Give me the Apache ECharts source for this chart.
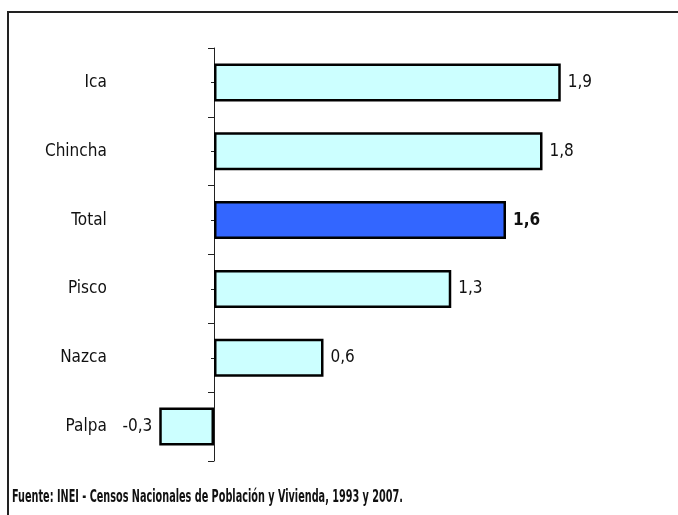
<!DOCTYPE html>
<html>
<head>
<meta charset="utf-8">
<script src="https://cdn.jsdelivr.net/npm/echarts@6/dist/echarts.min.js"></script>
<style>
  html, body { margin: 0; padding: 0; background: #fff; }
  .main { width: 678px; height: 515px; }
</style>
</head>
<body>
<div class="main"></div>
<script>
let chartDom = document.querySelector('.main');
let myChart = echarts.init(chartDom);

let provincias = ['Ica', 'Chincha', 'Total', 'Pisco', 'Nazca', 'Palpa'];
let tasas = [1.9, 1.8, 1.6, 1.3, 0.6, -0.3];
let destacado = 'Total';
let fuente = 'Fuente: INEI - Censos Nacionales de Población y Vivienda, 1993 y 2007.';

let fuenteTexto = '"Liberation Sans Narrow", "Arial Narrow", "DejaVu Sans Condensed", sans-serif';

let datos = tasas.map((v, i) => {
  let esTotal = provincias[i] == destacado;
  return {
    value: v,
    itemStyle: { color: esTotal ? '#3366ff' : '#ccffff' },
    label: {
      position: v < 0 ? 'left' : 'right',
      fontWeight: esTotal ? 'bold' : 'normal'
    }
  };
});

let option = {
  backgroundColor: '#fff',
  animation: false,
  textStyle: { fontFamily: fuenteTexto },
  grid: { left: 122.75, right: 44.25, top: 48, bottom: 54 },
  xAxis: {
    type: 'value',
    min: -0.5,
    max: 2.3,
    show: false
  },
  yAxis: [
    {
      // linea del eje en cero con marcas
      type: 'value',
      min: 0,
      max: 6,
      interval: 1,
      position: 'left',
      axisLine: { show: true, onZero: true, lineStyle: { color: '#222', width: 1 } },
      axisTick: { show: true, length: 6, lineStyle: { color: '#222' } },
      minorTick: { show: true, splitNumber: 2, length: 3, lineStyle: { color: '#222' } },
      axisLabel: { show: false },
      splitLine: { show: false }
    },
    {
      type: 'category',
      data: provincias,
      inverse: true,
      position: 'left',
      axisLine: { show: false, onZero: false },
      axisTick: { show: false },
      axisLabel: { margin: 16, fontSize: 17, color: '#111', fontFamily: fuenteTexto }
    }
  ],
  series: [
    {
      type: 'bar',
      yAxisIndex: 1,
      barWidth: 38,
      data: datos,
      itemStyle: { borderColor: '#000', borderWidth: 2.5 },
      label: {
        show: true,
        distance: 7,
        fontSize: 17,
        color: '#111',
        fontFamily: fuenteTexto,
        formatter: p => String(p.value).replace('.', ',')
      }
    }
  ],
  graphic: [
    {
      type: 'rect',
      shape: { x: 8, y: 12, width: 700, height: 520 },
      style: { fill: 'none', stroke: '#222', lineWidth: 2 },
      z: 10
    },
    {
      type: 'text',
      x: 12,
      y: 489,
      scaleX: 0.634,
      style: {
        text: fuente,
        font: 'bold 17px ' + fuenteTexto,
        fill: '#111'
      },
      z: 10
    }
  ]
};

option && myChart.setOption(option);
</script>
</body>
</html>
